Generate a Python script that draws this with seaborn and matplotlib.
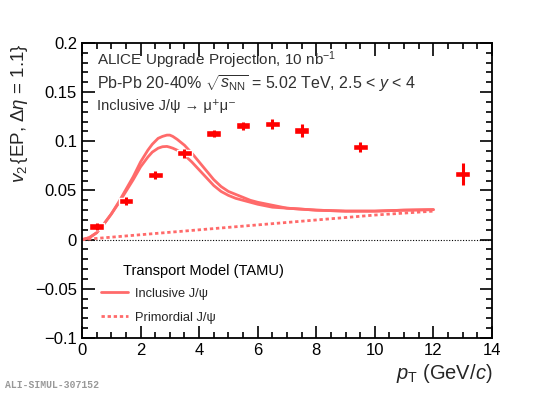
import numpy as np
import pandas as pd
import matplotlib
matplotlib.use("Agg")
import matplotlib.pyplot as plt
import seaborn as sns

# Datos proyectados (ALICE upgrade)
pt = [0.5, 1.5, 2.5, 3.5, 4.5, 5.5, 6.5, 7.5, 9.5, 13.0]
v2 = [0.0134, 0.039, 0.066, 0.088, 0.108, 0.116, 0.1175, 0.111, 0.0944, 0.067]
stat = [0.004, 0.004, 0.004, 0.0045, 0.004, 0.004, 0.005, 0.0067, 0.005, 0.011]
syst = [0.0032] * 10

# Modelo de transporte (TAMU): banda inclusiva (limites) y primordial
pt_model = [0, 0.25, 0.5, 0.75, 1.0, 1.25, 1.5, 1.75, 2.0, 2.25, 2.4, 2.5, 2.6, 2.75,
            2.9, 3.0, 3.1, 3.25, 3.5, 3.75, 4.0, 4.25, 4.5, 4.75, 5.0, 5.25, 5.5,
            5.75, 6.0, 6.5, 7.0, 7.5, 8, 9, 10, 11, 12]
incl_upper = [0, 0.002, 0.007, 0.016, 0.026, 0.038, 0.051, 0.064, 0.079, 0.091, 0.097,
              0.100, 0.103, 0.105, 0.1063, 0.1063, 0.105, 0.102, 0.096, 0.088, 0.079,
              0.070, 0.061, 0.054, 0.049, 0.046, 0.043, 0.040, 0.038, 0.035, 0.032,
              0.031, 0.030, 0.029, 0.029, 0.030, 0.0305]
incl_lower = [0, 0.002, 0.007, 0.016, 0.026, 0.037, 0.049, 0.061, 0.074, 0.084, 0.089,
              0.091, 0.093, 0.0945, 0.0948, 0.094, 0.093, 0.091, 0.086, 0.079, 0.071,
              0.063, 0.055, 0.049, 0.045, 0.042, 0.040, 0.038, 0.036, 0.033, 0.032,
              0.031, 0.030, 0.029, 0.029, 0.030, 0.0305]
pt_prim = [0, 2, 4, 6, 8, 10, 12]
prim = [0, 0.005, 0.010, 0.015, 0.020, 0.025, 0.029]

sns.set_theme(style="ticks")
plt.rcParams["font.family"] = ["Liberation Sans", "DejaVu Sans"]
plt.rcParams["mathtext.fontset"] = "custom"
plt.rcParams["mathtext.rm"] = "Liberation Sans"
plt.rcParams["mathtext.it"] = "Liberation Sans:italic"
plt.rcParams["mathtext.sf"] = "Liberation Sans"

fig = plt.figure(figsize=(5.48, 3.96), dpi=100)
ax = fig.add_axes([0.1496, 0.1465, 0.7482, 0.745])

model_color = "#ff6a6a"
sns.lineplot(x=pt_model, y=incl_upper, color=model_color, lw=2, ax=ax,
             label="Inclusive J/\u03c8", solid_joinstyle="round")
sns.lineplot(x=pt_model, y=incl_lower, color=model_color, lw=2, ax=ax,
             solid_joinstyle="round")
sns.lineplot(x=pt_prim, y=prim, color=model_color, lw=2, ls=(0, (1.2, 1.0)), ax=ax,
             label="Primordial J/\u03c8")

ax.axhline(0, color="black", lw=0.8, ls=(0, (1, 1.5)), zorder=1)

# Cajas (sistematicas) y barras estadisticas
bottoms = [y - s for y, s in zip(v2, syst)]
ax.bar(pt, [2 * s for s in syst], bottom=bottoms, width=0.5, color="red", zorder=3)
ax.errorbar(pt, v2, yerr=stat, fmt="none", ecolor="red", elinewidth=2.2, capsize=0, zorder=3)

ax.set_xlim(0, 14)
ax.set_ylim(-0.1, 0.2)
ax.set_xticks(np.arange(0, 15, 2))
ax.set_xticks(np.arange(0, 14.1, 0.5), minor=True)
ax.set_yticks([-0.1, -0.05, 0, 0.05, 0.1, 0.15, 0.2])
ax.set_yticklabels(["\u22120.1", "\u22120.05", "0", "0.05", "0.1", "0.15", "0.2"])
ax.set_yticks(np.arange(-0.1, 0.201, 0.01), minor=True)
ax.tick_params(which="both", direction="in", top=True, right=True, colors="black",
               labelsize=12, width=1.2)
ax.tick_params(which="major", length=9)
ax.tick_params(which="minor", length=4.5)
for sp in ax.spines.values():
    sp.set_linewidth(1.3)
    sp.set_color("black")

ax.set_xlabel(r"$p_{\mathrm{T}}$ (GeV/$c$)", fontsize=14.5, loc="right", labelpad=3)
ax.set_ylabel(r"$v_{2}\,\{$EP, $\Delta\eta$ = 1.1$\}$", fontsize=13.5, loc="top", labelpad=4)

txt_color = "#303030"
ax.text(0.037, 0.94, r"ALICE Upgrade Projection, 10 nb$^{-1}$", transform=ax.transAxes,
        fontsize=11, color=txt_color, va="center")
ax.text(0.037, 0.862, r"Pb-Pb 20-40% $\sqrt{s_{\mathrm{NN}}}$ = 5.02 TeV, 2.5 < $y$ < 4",
        transform=ax.transAxes, fontsize=11.5, color=txt_color, va="center")
ax.text(0.037, 0.788, "Inclusive J/\u03c8 \u2192 \u03bc\u207a\u03bc\u207b", transform=ax.transAxes,
        fontsize=10.5, color=txt_color, va="center")

# Titulo de la leyenda escrito aparte, desplazado como en ROOT
ax.text(0.10, 0.228, "Transport Model (TAMU)", transform=ax.transAxes,
        fontsize=10.5, color="black", va="center")
leg = ax.legend(loc="lower left", bbox_to_anchor=(0.018, 0.008), frameon=False,
                fontsize=9.3, handlelength=2.1, handletextpad=0.5, labelspacing=0.95)

fig.text(0.01, 0.02, "ALI-SIMUL-307152", fontsize=7, color="#999999",
         family=["Liberation Mono", "DejaVu Sans Mono"], fontweight="bold")

fig.savefig("out.png", dpi=100)
